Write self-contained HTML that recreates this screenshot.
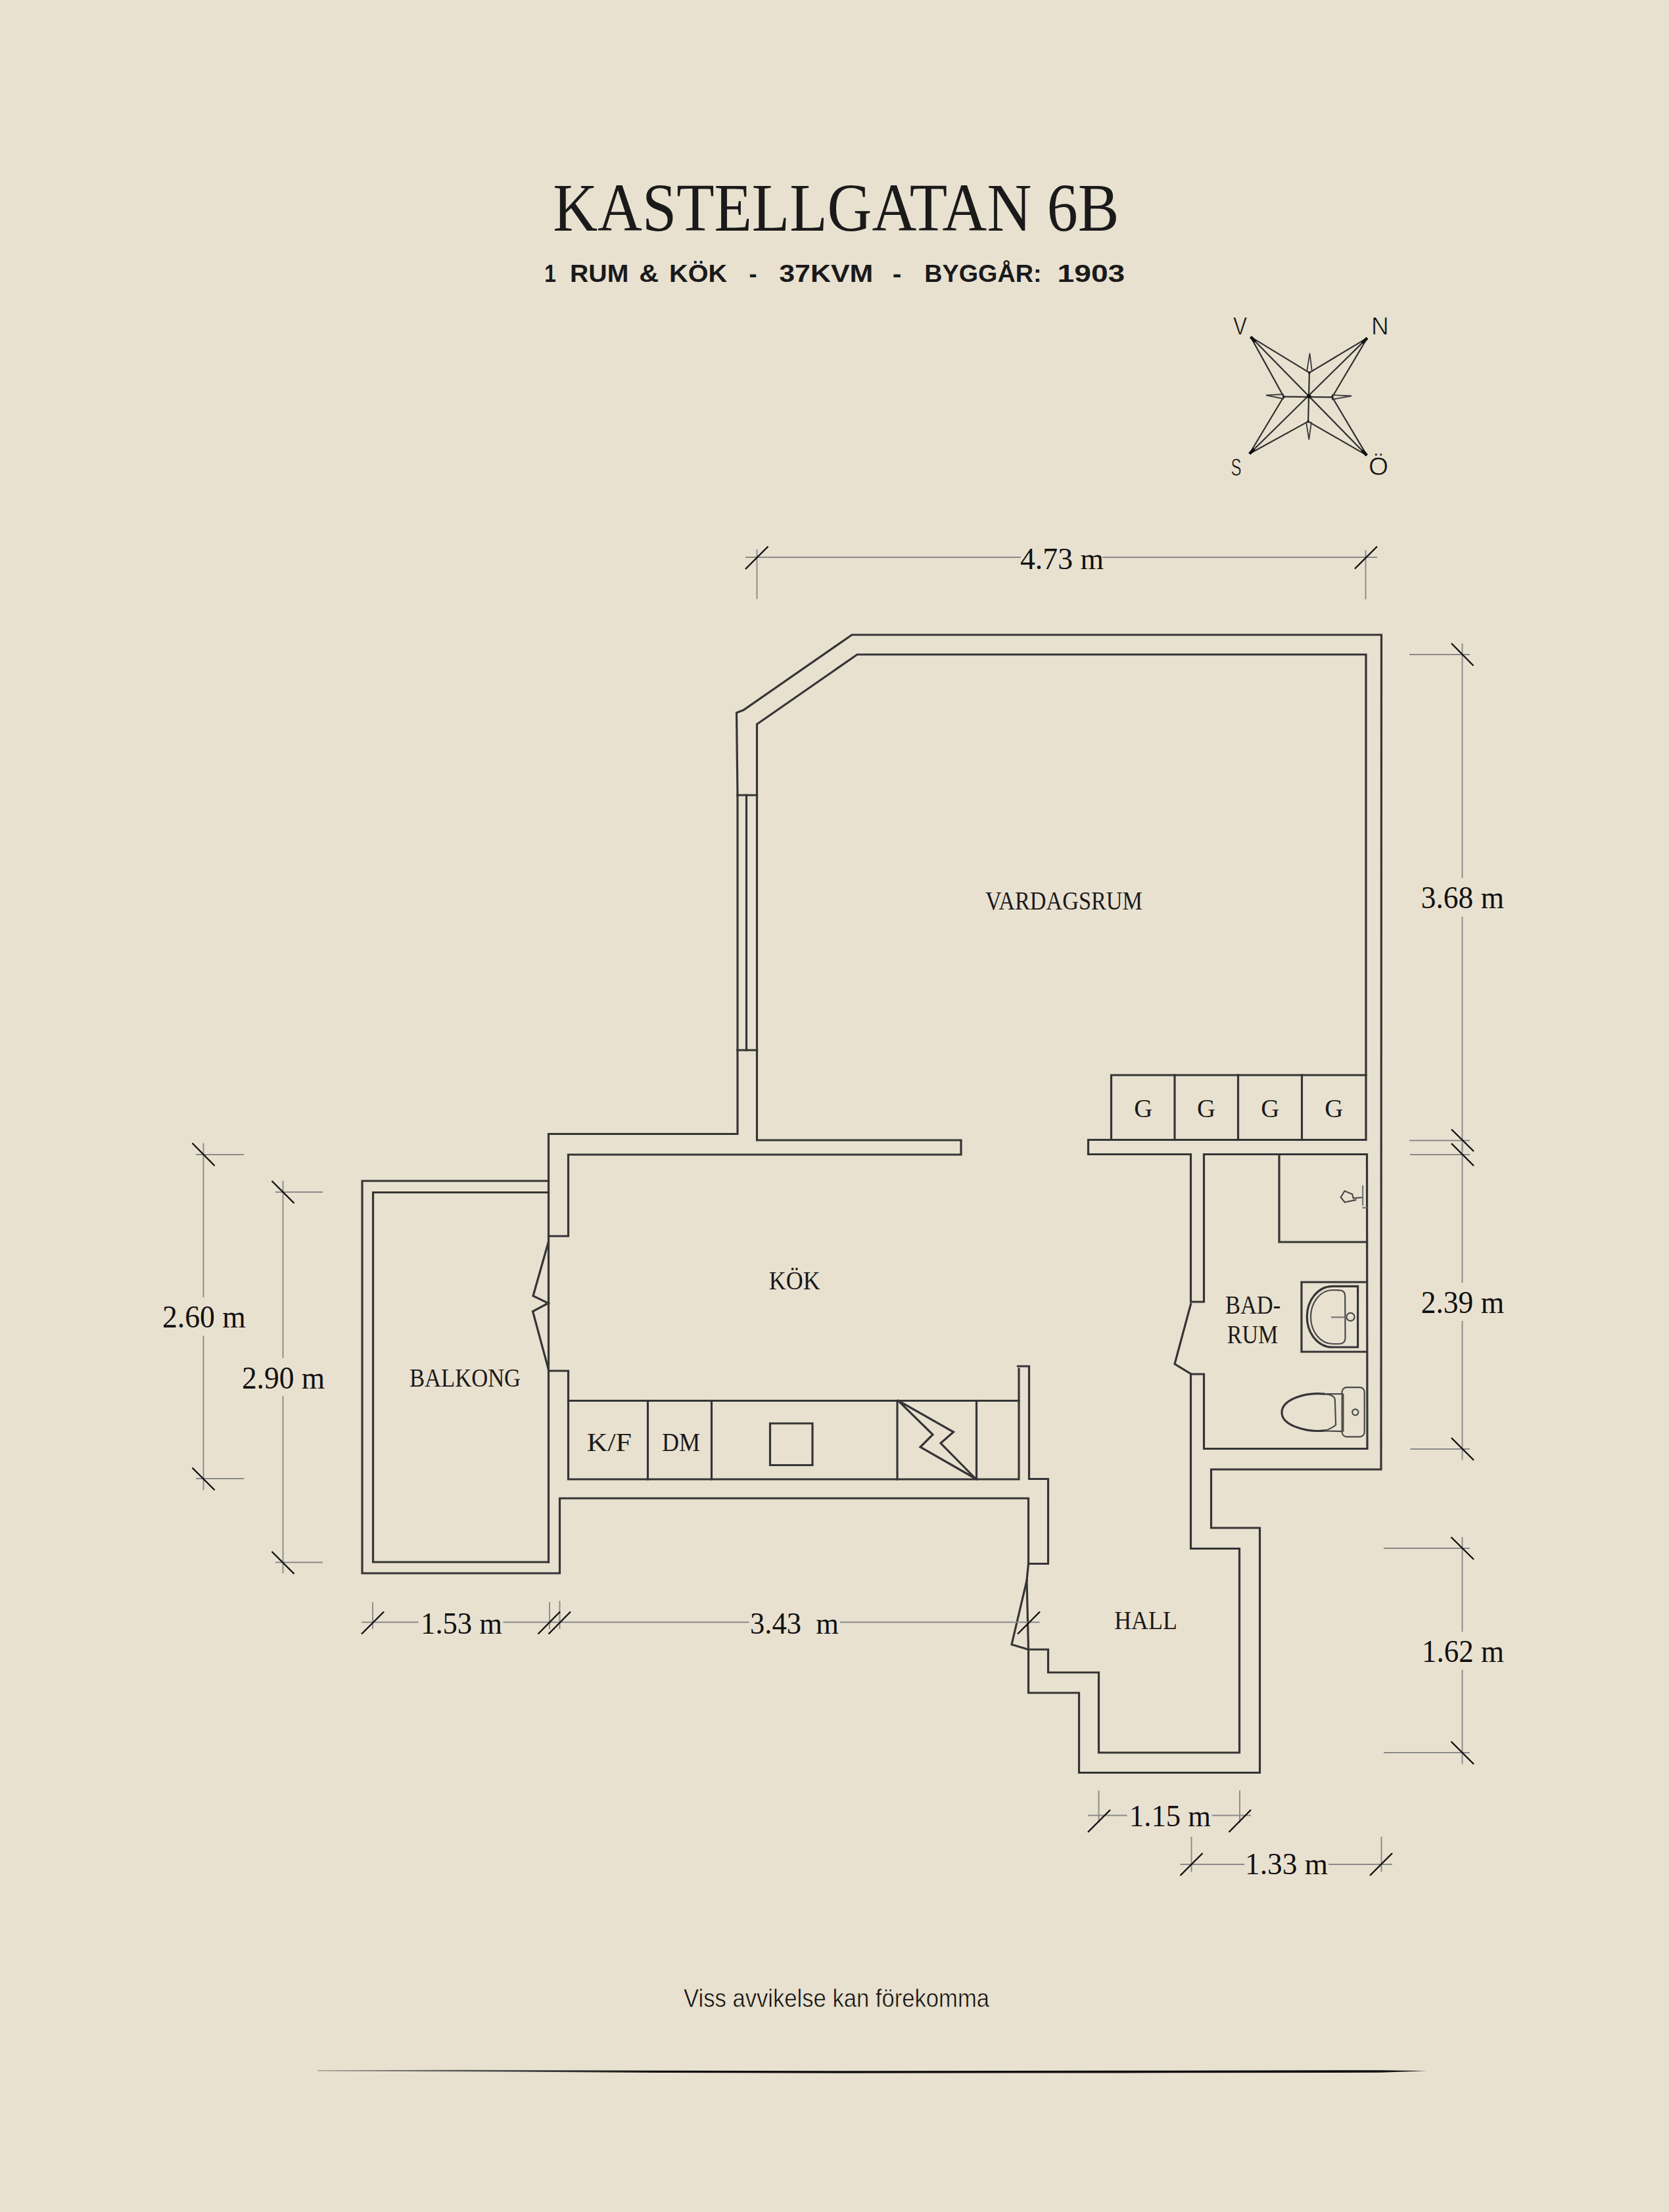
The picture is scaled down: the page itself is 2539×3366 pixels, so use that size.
<!DOCTYPE html>
<html><head><meta charset="utf-8"><title>Kastellgatan 6B</title>
<style>
html,body{margin:0;padding:0;background:#E9E1D0;}
body{width:2539px;height:3366px;overflow:hidden;position:relative;}
svg{position:absolute;left:0;top:0;}
.w{fill:none;stroke:#363636;stroke-width:3.2;stroke-linejoin:miter;stroke-linecap:square;}
.d{stroke:#8a8a8a;stroke-width:1.9;}
.s{stroke:#111;stroke-width:2.4;}
.n{font-family:"Liberation Serif",serif;fill:#111;}
.l{font-family:"Liberation Serif",serif;fill:#1a1a1a;}
.w2{fill:none;stroke:#4a4a4a;stroke-width:2.2;}
.w3{fill:none;stroke:#777;stroke-width:2.2;}
.c{stroke:#303030;stroke-width:2.2;}
.c2{fill:none;stroke:#3a3a3a;stroke-width:1.8;}
.c3{stroke:#111;stroke-width:4.5;}
.sans2{font-family:"Liberation Sans",sans-serif;fill:#0e0e0e;stroke:#E9E1D0;stroke-width:0.6px;}
.sans{font-family:"Liberation Sans",sans-serif;fill:#1a1a1a;}
</style></head>
<body>
<svg width="2539" height="3366" viewBox="0 0 2539 3366">
<text class="l" x="841.3" y="350.5" font-size="104" textLength="861" lengthAdjust="spacingAndGlyphs">KASTELLGATAN 6B</text>
<text class="sans" x="828.2" y="429" font-size="37" font-weight="bold" textLength="17.6" lengthAdjust="spacingAndGlyphs">1</text>
<text class="sans" x="867.0" y="429" font-size="37" font-weight="bold" textLength="89.3" lengthAdjust="spacingAndGlyphs">RUM</text>
<text class="sans" x="972.2" y="429" font-size="37" font-weight="bold" textLength="29.9" lengthAdjust="spacingAndGlyphs">&amp;</text>
<text class="sans" x="1018.0" y="429" font-size="37" font-weight="bold" textLength="88.2" lengthAdjust="spacingAndGlyphs">K&#214;K</text>
<text class="sans" x="1139.4" y="429" font-size="37" font-weight="bold" textLength="12.1" lengthAdjust="spacingAndGlyphs">-</text>
<text class="sans" x="1185.2" y="429" font-size="37" font-weight="bold" textLength="143.2" lengthAdjust="spacingAndGlyphs">37KVM</text>
<text class="sans" x="1357.8" y="429" font-size="37" font-weight="bold" textLength="13.7" lengthAdjust="spacingAndGlyphs">-</text>
<text class="sans" x="1406.3" y="429" font-size="37" font-weight="bold" textLength="178.2" lengthAdjust="spacingAndGlyphs">BYGG&#197;R:</text>
<text class="sans" x="1608.5" y="429" font-size="37" font-weight="bold" textLength="102.8" lengthAdjust="spacingAndGlyphs">1903</text>
<defs><filter id="soft" x="-1%" y="-1%" width="102%" height="102%"><feGaussianBlur stdDeviation="0.55"/></filter></defs><g filter="url(#soft)">
<polyline class="w" points="1122.0,1210.0 1120.5,1084.5 1131.0,1080.5 1296.0,966.0 2101.5,966.0 2101.0,2236.0 1842.5,2236.0 1842.5,2325.0 1916.5,2325.0 1916.5,2697.5 1641.5,2697.5 1641.5,2576.0 1564.5,2576.0 1564.5,2510.0 1594.5,2510.0 1594.5,2545.0 1671.5,2545.0 1671.5,2667.0 1885.5,2667.0 1885.5,2356.5 1811.5,2356.5 1811.5,2091.0 1831.5,2091.0 1831.5,2204.5 2080.0,2204.5 2079.5,1756.5 1831.5,1756.5 1831.5,1981.0 1811.5,1981.0 1811.5,1756.5 1655.5,1756.5 1655.5,1734.5 2078.0,1734.5 2078.0,996.0 1304.0,996.0 1151.5,1102.0 1151.5,1210.0"/>
<polyline class="w" points="1122.0,1210.0 1151.5,1210.0"/>
<polyline class="w" points="1122.0,1598.0 1151.5,1598.0"/>
<polyline class="w" points="1122.0,1210.0 1122.0,1598.0"/>
<polyline class="w" points="1151.5,1210.0 1151.5,1598.0"/>
<polyline class="w" points="1135.5,1210.0 1135.5,1598.0"/>
<polyline class="w" points="1122.0,1598.0 1122.0,1725.5 834.5,1725.5 834.5,2377.0"/>
<polyline class="w" points="834.5,1797.0 551.0,1797.0 551.0,2394.0 851.5,2394.0 851.5,2280.0 1564.5,2280.0 1564.5,2379.5 1594.5,2379.5 1594.5,2250.5 1565.5,2250.5 1565.5,2079.0 1548.5,2079.0"/>
<polyline class="w" points="834.5,1814.5 567.5,1814.5 567.5,2377.0 834.5,2377.0"/>
<polyline class="w" points="1151.5,1598.0 1151.5,1735.0 1462.0,1735.0 1462.0,1757.0 864.5,1757.0 864.5,1881.0 834.5,1881.0"/>
<polyline class="w" points="834.5,2086.0 864.5,2086.0 864.5,2251.0 1550.0,2251.0 1550.0,2083.0"/>
<polyline class="w" points="864.5,2131.5 1550.0,2131.5"/>
<polyline class="w" points="985.5,2131.5 985.5,2251.0"/>
<polyline class="w" points="1082.5,2131.5 1082.5,2251.0"/>
<polyline class="w" points="1365.0,2131.5 1365.0,2251.0"/>
<polyline class="w" points="1485.5,2131.5 1485.5,2251.0"/>
<polyline class="w" points="1171.5,2166.0 1236.0,2166.0 1236.0,2229.5 1171.5,2229.5 1171.5,2166.0"/>
<polyline class="w" points="1366.5,2131.5 1450.5,2179.0 1431.0,2196.0 1484.0,2250.0 1400.0,2202.0 1419.0,2183.0 1366.5,2131.5"/>
<polyline class="w" points="1690.5,1734.5 1690.5,1636.0 2078.0,1636.0"/>
<polyline class="w" points="1787.0,1636.0 1787.0,1734.5"/>
<polyline class="w" points="1883.5,1636.0 1883.5,1734.5"/>
<polyline class="w" points="1980.5,1636.0 1980.5,1734.5"/>
<polyline class="w" points="1946.0,1756.5 1946.0,1890.0 2079.5,1890.0"/>
<polyline class="w" points="2079.5,1951.0 1980.0,1951.0 1980.0,2057.0 2079.5,2057.0"/>
<polyline class="w" points="1811.5,1984.5 1787.0,2075.5 1811.5,2090.5"/>
<polyline class="w" points="834.0,1891.0 811.0,1972.0 834.0,1983.0 810.5,1995.5 834.0,2082.5"/>
<polyline class="w" points="1564.5,2379.5 1562.0,2405.0 1539.0,2502.5 1564.5,2510.0"/>
<polyline class="w" points="1562.0,2405.0 1564.5,2510.0"/>
</g>
<line class="d" x1="1134.0" y1="848.0" x2="1553.0" y2="848.0"/>
<line class="d" x1="1677.0" y1="848.0" x2="2095.0" y2="848.0"/>
<line class="d" x1="1151.5" y1="836.0" x2="1151.5" y2="911.5"/>
<line class="d" x1="2077.5" y1="837.0" x2="2077.5" y2="912.0"/>
<line class="d" x1="2224.5" y1="979.0" x2="2224.5" y2="1336.0"/>
<line class="d" x1="2224.5" y1="1395.0" x2="2224.5" y2="1752.0"/>
<line class="d" x1="2144.0" y1="996.0" x2="2236.0" y2="996.0"/>
<line class="d" x1="2144.0" y1="1735.5" x2="2236.0" y2="1735.5"/>
<line class="d" x1="2224.5" y1="1740.0" x2="2224.5" y2="1952.0"/>
<line class="d" x1="2224.5" y1="2010.0" x2="2224.5" y2="2221.5"/>
<line class="d" x1="2145.0" y1="1757.0" x2="2236.0" y2="1757.0"/>
<line class="d" x1="2145.5" y1="2205.0" x2="2236.0" y2="2205.0"/>
<line class="d" x1="2224.5" y1="2339.0" x2="2224.5" y2="2483.0"/>
<line class="d" x1="2224.5" y1="2541.0" x2="2224.5" y2="2684.5"/>
<line class="d" x1="2105.0" y1="2356.0" x2="2236.0" y2="2356.0"/>
<line class="d" x1="2105.0" y1="2667.0" x2="2236.0" y2="2667.0"/>
<line class="d" x1="1655.0" y1="2762.5" x2="1714.5" y2="2762.5"/>
<line class="d" x1="1843.5" y1="2762.5" x2="1903.0" y2="2762.5"/>
<line class="d" x1="1671.5" y1="2724.5" x2="1671.5" y2="2773.5"/>
<line class="d" x1="1886.0" y1="2724.5" x2="1886.0" y2="2773.5"/>
<line class="d" x1="1795.5" y1="2837.0" x2="1893.0" y2="2837.0"/>
<line class="d" x1="2021.0" y1="2837.0" x2="2118.0" y2="2837.0"/>
<line class="d" x1="1812.5" y1="2795.0" x2="1812.5" y2="2848.5"/>
<line class="d" x1="2101.5" y1="2795.0" x2="2101.5" y2="2848.5"/>
<line class="d" x1="550.0" y1="2468.5" x2="636.5" y2="2468.5"/>
<line class="d" x1="765.5" y1="2468.5" x2="1139.5" y2="2468.5"/>
<line class="d" x1="1278.0" y1="2468.5" x2="1581.5" y2="2468.5"/>
<line class="d" x1="567.0" y1="2438.0" x2="567.0" y2="2479.0"/>
<line class="d" x1="836.0" y1="2438.0" x2="836.0" y2="2479.0"/>
<line class="d" x1="851.5" y1="2436.0" x2="851.5" y2="2479.0"/>
<line class="d" x1="309.5" y1="1739.5" x2="309.5" y2="1974.0"/>
<line class="d" x1="309.5" y1="2032.5" x2="309.5" y2="2267.5"/>
<line class="d" x1="298.0" y1="1757.0" x2="371.0" y2="1757.0"/>
<line class="d" x1="298.0" y1="2250.0" x2="371.0" y2="2250.0"/>
<line class="d" x1="430.5" y1="1797.0" x2="430.5" y2="2066.5"/>
<line class="d" x1="430.5" y1="2124.5" x2="430.5" y2="2394.0"/>
<line class="d" x1="419.0" y1="1814.0" x2="491.0" y2="1814.0"/>
<line class="d" x1="419.0" y1="2377.5" x2="491.0" y2="2377.5"/>
<line class="s" x1="1134.0" y1="866.0" x2="1168.5" y2="831.5"/>
<line class="s" x1="2061.0" y1="865.5" x2="2095.0" y2="831.5"/>
<line class="s" x1="2208.0" y1="979.0" x2="2241.5" y2="1013.0"/>
<line class="s" x1="2208.0" y1="1718.5" x2="2242.0" y2="1752.0"/>
<line class="s" x1="2208.0" y1="1740.0" x2="2242.0" y2="1774.0"/>
<line class="s" x1="2208.0" y1="2188.0" x2="2242.0" y2="2222.0"/>
<line class="s" x1="2207.5" y1="2339.0" x2="2242.0" y2="2373.0"/>
<line class="s" x1="2207.5" y1="2650.0" x2="2242.0" y2="2684.5"/>
<line class="s" x1="1655.0" y1="2788.0" x2="1689.0" y2="2754.0"/>
<line class="s" x1="1869.5" y1="2788.0" x2="1903.0" y2="2754.0"/>
<line class="s" x1="1795.5" y1="2854.0" x2="1829.5" y2="2820.0"/>
<line class="s" x1="2084.0" y1="2854.0" x2="2118.0" y2="2820.0"/>
<line class="s" x1="550.0" y1="2486.5" x2="584.0" y2="2452.5"/>
<line class="s" x1="818.5" y1="2486.5" x2="852.0" y2="2452.5"/>
<line class="s" x1="834.5" y1="2486.5" x2="868.0" y2="2452.5"/>
<line class="s" x1="1548.0" y1="2486.5" x2="1582.0" y2="2452.5"/>
<line class="s" x1="292.5" y1="1739.5" x2="326.5" y2="1774.0"/>
<line class="s" x1="292.5" y1="2233.5" x2="326.5" y2="2267.5"/>
<line class="s" x1="413.5" y1="1797.0" x2="447.5" y2="1831.0"/>
<line class="s" x1="413.5" y1="2361.0" x2="447.5" y2="2395.0"/>
<text class="n" x="1552.0" y="865.5" font-size="47.0" textLength="127.0" lengthAdjust="spacingAndGlyphs">4.73 m</text>
<text class="n" x="2161.8" y="1382.0" font-size="49.0" textLength="126.2" lengthAdjust="spacingAndGlyphs">3.68 m</text>
<text class="n" x="2161.7" y="1998.0" font-size="49.0" textLength="126.5" lengthAdjust="spacingAndGlyphs">2.39 m</text>
<text class="n" x="2163.1" y="2529.0" font-size="49.0" textLength="124.8" lengthAdjust="spacingAndGlyphs">1.62 m</text>
<text class="n" x="1718.0" y="2778.8" font-size="47.0" textLength="124.1" lengthAdjust="spacingAndGlyphs">1.15 m</text>
<text class="n" x="1894.1" y="2852.3" font-size="47.0" textLength="125.9" lengthAdjust="spacingAndGlyphs">1.33 m</text>
<text class="n" x="640.1" y="2485.8" font-size="47.0" textLength="123.9" lengthAdjust="spacingAndGlyphs">1.53 m</text>
<text class="n" x="1141.0" y="2485.8" font-size="47.0" textLength="134.9" lengthAdjust="spacingAndGlyphs">3.43 &#160;m</text>
<text class="n" x="247.0" y="2020.0" font-size="49.0" textLength="126.8" lengthAdjust="spacingAndGlyphs">2.60 m</text>
<text class="n" x="367.9" y="2112.9" font-size="49.0" textLength="126.3" lengthAdjust="spacingAndGlyphs">2.90 m</text>
<text class="l" x="1499.1" y="1384.0" font-size="39.0" textLength="238.7" lengthAdjust="spacingAndGlyphs">VARDAGSRUM</text>
<text class="l" x="1169.8" y="1962.0" font-size="39.0" textLength="77.9" lengthAdjust="spacingAndGlyphs">K&#214;K</text>
<text class="l" x="623.0" y="2110.0" font-size="39.0" textLength="169.1" lengthAdjust="spacingAndGlyphs">BALKONG</text>
<text class="l" x="1864.0" y="1998.6" font-size="39.0" textLength="84.2" lengthAdjust="spacingAndGlyphs">BAD-</text>
<text class="l" x="1866.8" y="2043.8" font-size="39.0" textLength="77.3" lengthAdjust="spacingAndGlyphs">RUM</text>
<text class="l" x="1695.2" y="2478.9" font-size="39.0" textLength="95.6" lengthAdjust="spacingAndGlyphs">HALL</text>
<text class="l" x="892.8" y="2207.8" font-size="39.0" textLength="68.2" lengthAdjust="spacingAndGlyphs">K/F</text>
<text class="l" x="1006.9" y="2207.8" font-size="39.0" textLength="58.1" lengthAdjust="spacingAndGlyphs">DM</text>
<text class="l" x="1725.2" y="1700" font-size="39" textLength="28" lengthAdjust="spacingAndGlyphs">G</text>
<text class="l" x="1821.1" y="1700" font-size="39" textLength="28" lengthAdjust="spacingAndGlyphs">G</text>
<text class="l" x="1918.2" y="1700" font-size="39" textLength="28" lengthAdjust="spacingAndGlyphs">G</text>
<text class="l" x="2015.2" y="1700" font-size="39" textLength="28" lengthAdjust="spacingAndGlyphs">G</text>
<path class="w" d="M2065.6,1957.3 L2026.8,1957.3 A38.5,46.35 0 0 0 2026.8,2050 L2065.6,2050 Z"/>
<path class="w2" d="M2027.5,1963 A33.5,41 0 0 0 2027.5,2045 L2037.6,2045 Q2046.5,2045 2046.5,2035.6 L2046.2,1972.4 Q2046.2,1963.4 2037.6,1963.4 Z"/>
<circle class="w2" cx="2054.5" cy="2004" r="6.1"/>
<line class="w3" x1="2025" y1="2004.4" x2="2046.2" y2="2004.4"/>
<path class="w" d="M2014.6,2121.1 C1985,2118 1950,2130 1950,2149.4 C1950,2170 1990,2180 2015.5,2176.8"/>
<path class="w2" d="M2014.6,2121.1 C2024,2122 2030.8,2124 2030.8,2130 L2032.1,2168.3 C2028,2172 2020,2176 2015.5,2176.8"/>
<path class="w2" d="M2014.6,2121.1 L2043.4,2121.1 M2015.5,2177.5 L2043.4,2178.2 M2043.4,2121.1 L2043.4,2178.2"/>
<rect class="w2" x="2041.6" y="2111.2" width="34.1" height="75.1" rx="7" ry="7"/>
<circle class="w2" cx="2061.8" cy="2149" r="4.6"/>
<polyline class="w2" points="2063.6,1825.7 2045.8,1829.5 2039.7,1822 2045.5,1812.3 2057.3,1817.3 2058.8,1823.4 2074.2,1822"/>
<line class="w3" x1="2073.1" y1="1803.6" x2="2073.1" y2="1834.5"/>
<line class="w3" x1="2072.4" y1="1837.8" x2="2079.6" y2="1837.8"/>
<line class="c" x1="1902.6" y1="512.6" x2="1991.9" y2="567.1"/>
<line class="c" x1="1902.6" y1="512.6" x2="1952.9" y2="603.7"/>
<line class="c" x1="1902.6" y1="512.6" x2="2079.3" y2="692.9"/>
<line class="c" x1="2079.9" y1="514.4" x2="1991.9" y2="567.1"/>
<line class="c" x1="2079.9" y1="514.4" x2="2026.6" y2="604.3"/>
<line class="c" x1="2079.9" y1="514.4" x2="1900.8" y2="690.5"/>
<line class="c" x1="1900.8" y1="690.5" x2="1952.9" y2="603.7"/>
<line class="c" x1="1900.8" y1="690.5" x2="1990.1" y2="641.4"/>
<line class="c" x1="2079.3" y1="692.9" x2="2026.6" y2="604.3"/>
<line class="c" x1="2079.3" y1="692.9" x2="1990.1" y2="641.4"/>
<line class="c" x1="1991.9" y1="567.1" x2="1990.1" y2="641.4"/>
<line class="c" x1="1952.9" y1="603.7" x2="2026.6" y2="604.3"/>
<path class="c2" d="M1988,566 L1992.5,537.7 L1996,566"/>
<path class="c2" d="M1987,642 L1991.3,669 L1995,642"/>
<path class="c2" d="M1953,600 L1926,601.3 L1953,607"/>
<path class="c2" d="M2026,601 L2056,602.5 L2026,608"/>
<circle cx="1991.3" cy="603.1" r="3.2" fill="#111"/>
<circle cx="1991.9" cy="567.1" r="2" fill="#222"/>
<circle cx="1952.9" cy="603.7" r="2" fill="#222"/>
<circle cx="2026.6" cy="604.3" r="2" fill="#222"/>
<circle cx="1990.1" cy="641.4" r="2" fill="#222"/>
<line class="c3" x1="1902.6" y1="512.6" x2="1910.0" y2="520.0"/>
<line class="c3" x1="2079.9" y1="514.4" x2="2072.0" y2="522.0"/>
<line class="c3" x1="1900.8" y1="690.5" x2="1908.0" y2="683.0"/>
<line class="c3" x1="2079.3" y1="692.9" x2="2072.0" y2="685.0"/>
<text class="sans2" x="1876" y="509" font-size="37" textLength="21" lengthAdjust="spacingAndGlyphs">V</text>
<text class="sans2" x="2086" y="509" font-size="37">N</text>
<text class="sans2" x="1872.5" y="724" font-size="37" textLength="16" lengthAdjust="spacingAndGlyphs">S</text>
<text class="sans2" x="2082" y="723" font-size="38" textLength="30" lengthAdjust="spacingAndGlyphs">&#214;</text>
<defs><linearGradient id="bg1" gradientUnits="userSpaceOnUse" x1="483" y1="0" x2="1000" y2="0"><stop offset="0" stop-color="#9a968c"/><stop offset="0.45" stop-color="#555"/><stop offset="1" stop-color="#111"/></linearGradient></defs>
<path fill="url(#bg1)" d="M483,3150.3 L700,3149.8 L1000,3150.8 L1300,3151.2 L1700,3150.8 L2100,3150.2 L2171,3151.3 L2100,3153.8 L1700,3154.4 L1300,3154.8 L1000,3154 L700,3152.2 L483,3151.6 Z"/>
<text class="sans2" x="1040" y="3053.5" font-size="38" textLength="465" lengthAdjust="spacingAndGlyphs">Viss avvikelse kan f&#246;rekomma</text>
</svg>
</body></html>
